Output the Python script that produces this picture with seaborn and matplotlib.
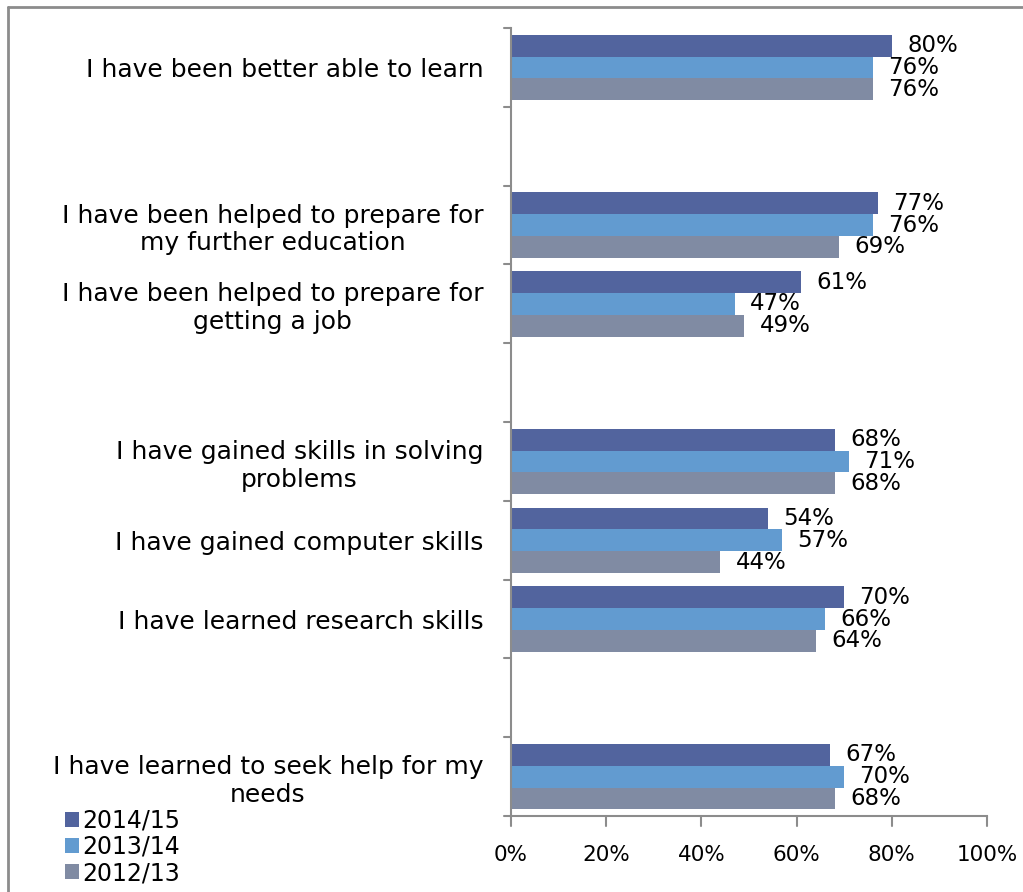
import pandas as pd
import matplotlib.pyplot as plt
import seaborn as sns
from matplotlib.lines import Line2D

# Category slots, blanks are empty rows in the original chart
categories = [
    "I have been better able to learn",
    " ",
    "I have been helped to prepare for\nmy further education",
    "I have been helped to prepare for\ngetting a job",
    "  ",
    "I have gained skills in solving\nproblems",
    "I have gained computer skills",
    "I have learned research skills",
    "   ",
    "I have learned to seek help for my\nneeds",
]
years = ["2014/15", "2013/14", "2012/13"]
vals_2014 = [80, None, 77, 61, None, 68, 54, 70, None, 67]
vals_2013 = [76, None, 76, 47, None, 71, 57, 66, None, 70]
vals_2012 = [76, None, 69, 49, None, 68, 44, 64, None, 68]
colors = ["#52649E", "#629BD0", "#808BA3"]

rows = []
for year, vals in zip(years, [vals_2014, vals_2013, vals_2012]):
    for cat, v in zip(categories, vals):
        if v is not None:
            rows.append({"Question": cat, "Year": year, "Value": v})
df = pd.DataFrame(rows)

sns.set_style("white")
plt.rcParams["font.family"] = ["DejaVu Sans"]
plt.rcParams["text.color"] = "black"

fig = plt.figure(figsize=(10.23, 8.92), dpi=100)
ax = fig.add_axes([0.4995, 0.0852, 0.4653, 0.8834])

sns.barplot(data=df, x="Value", y="Question", hue="Year", order=categories,
            hue_order=years, palette=colors, orient="h", width=0.83,
            saturation=1, linewidth=0, ax=ax, legend=True)

for container in ax.containers:
    ax.bar_label(container, labels=[f"{int(round(b.get_width()))}%" for b in container],
                 padding=11, fontsize=16.5, color="black")

ax.set_xlim(0, 100)
ax.set_ylim(len(categories) - 0.5, -0.5)
ax.set_xticks([0, 20, 40, 60, 80, 100])
ax.set_xticklabels([f"{t}%" for t in [0, 20, 40, 60, 80, 100]], fontsize=15.5)
ax.set_yticks(range(len(categories)))
ax.set_yticklabels(categories, fontsize=18)
for lbl in ax.get_yticklabels():
    lbl.set_multialignment("center")
ax.tick_params(axis="y", length=0, pad=20, labelcolor="black")
ax.tick_params(axis="x", length=0, pad=21, labelcolor="black")

# boundary ticks on both axes
for b in [i - 0.5 for i in range(len(categories) + 1)]:
    ax.plot([-0.015, 0], [b, b], transform=ax.get_yaxis_transform(),
            color="#8c8c8c", lw=1.5, clip_on=False)
for t in [0, 20, 40, 60, 80, 100]:
    ax.plot([t, t], [0, -0.013], transform=ax.get_xaxis_transform(),
            color="#8c8c8c", lw=1.5, clip_on=False)

ax.set_xlabel("")
ax.set_ylabel("")
for side in ["top", "right"]:
    ax.spines[side].set_visible(False)
for side in ["left", "bottom"]:
    ax.spines[side].set_color("#8c8c8c")
    ax.spines[side].set_linewidth(1.5)

handles, labels = ax.get_legend_handles_labels()
ax.get_legend().remove()
fig.legend(handles, labels, loc="upper left", bbox_to_anchor=(0.052, 0.107),
           frameon=False, fontsize=17, handlelength=0.6, handleheight=0.6,
           handletextpad=0.15, labelspacing=0.1, borderpad=0)

# outer chart border (top and left edges visible)
fig.add_artist(Line2D([8 / 1023, 1], [1 - 6.5 / 892, 1 - 6.5 / 892],
                      transform=fig.transFigure, color="#8c8c8c", lw=2))
fig.add_artist(Line2D([8 / 1023, 8 / 1023], [0, 1 - 6.5 / 892],
                      transform=fig.transFigure, color="#8c8c8c", lw=2))

fig.savefig("out.png", dpi=100)
